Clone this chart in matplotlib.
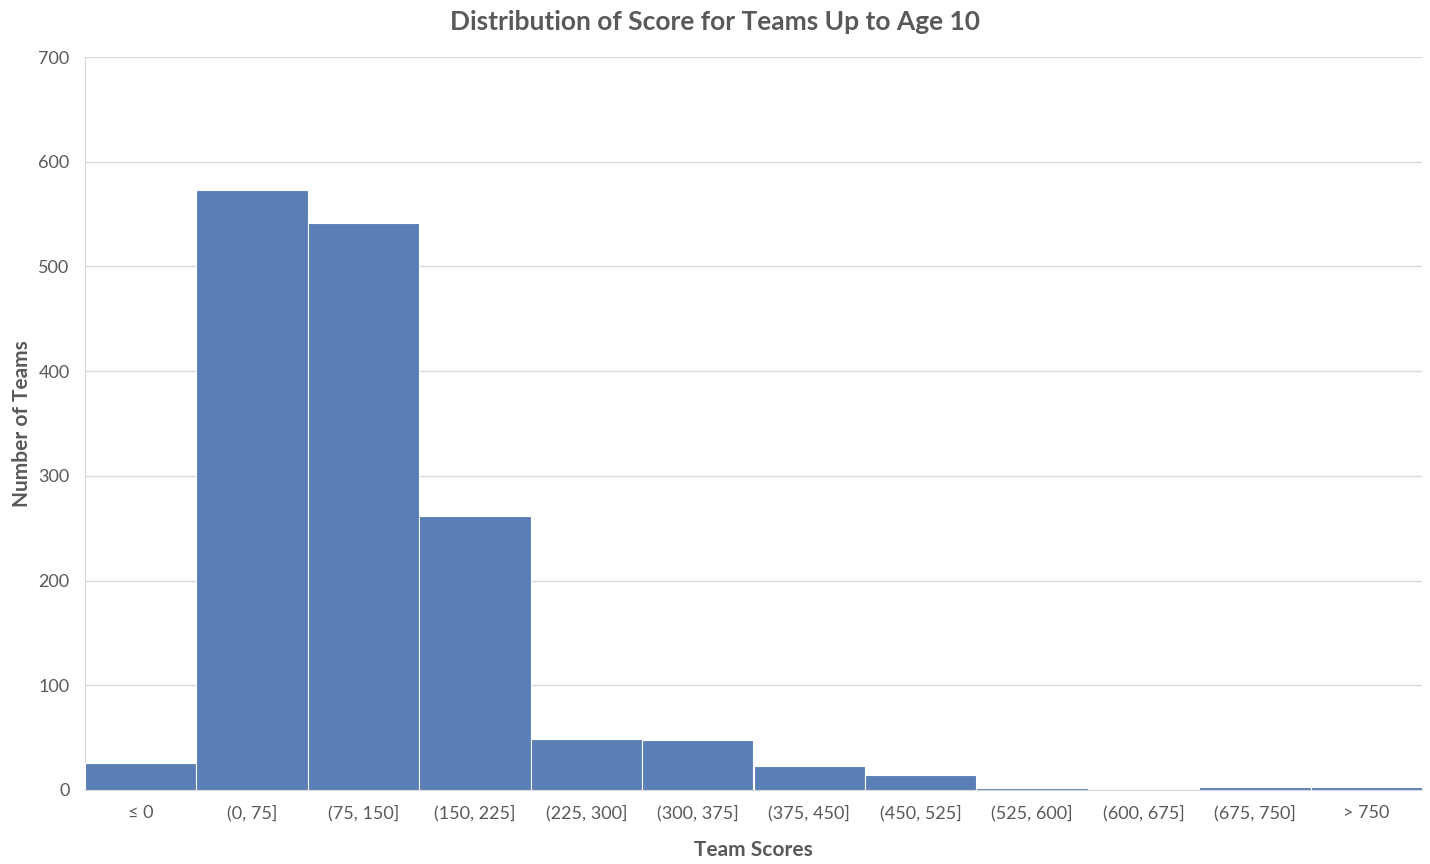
import matplotlib
matplotlib.use("Agg")
import matplotlib.pyplot as plt
import numpy as np

categories = ["≤ 0", "(0, 75]", "(75, 150]", "(150, 225]", "(225, 300]", "(300, 375]",
              "(375, 450]", "(450, 525]", "(525, 600]", "(600, 675]", "(675, 750]", "> 750"]
counts = [26, 573, 541, 262, 49, 48, 23, 14, 2, 0, 3, 3]

plt.rcParams['font.family'] = ['Lato', 'DejaVu Sans']
text_color = "#595959"

fig = plt.figure(figsize=(14.3, 8.64), dpi=100)
ax = fig.add_axes([85 / 1430, 1 - 790 / 864, (1422 - 85) / 1430, (790 - 57) / 864])

x = np.arange(len(categories))
ax.bar(x, counts, width=1.0, color="#5A7EB6", edgecolor="white", linewidth=0.8, zorder=3)

ax.set_xlim(-0.5, len(categories) - 0.5)
ax.set_ylim(0, 700)
ax.set_yticks(np.arange(0, 701, 100))
ax.set_xticks(x)
ax.set_xticklabels(categories)
ax.tick_params(axis="both", length=0, labelsize=13, colors=text_color)
ax.tick_params(axis="x", pad=11)
ax.tick_params(axis="y", pad=11)
ax.grid(axis="y", color="#D9D9D9", linewidth=1, zorder=0)

for side in ["top", "right"]:
    ax.spines[side].set_visible(False)
ax.spines["left"].set_color("#D9D9D9")
ax.spines["bottom"].set_color("#D9D9D9")

ax.set_xlabel("Team Scores", fontsize=15, fontweight="bold", color=text_color, labelpad=13)
ax.set_ylabel("Number of Teams", fontsize=15, fontweight="bold", color=text_color, labelpad=5)
fig.suptitle("Distribution of Score for Teams Up to Age 10", fontsize=19, fontweight="bold",
             color=text_color, x=715 / 1430, y=1 - 22 / 864, va="center")

fig.savefig("out.png", dpi=100)
